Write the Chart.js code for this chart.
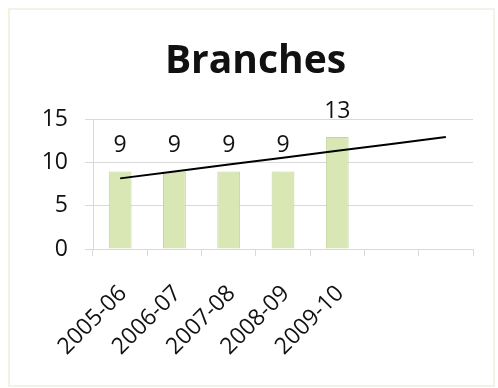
<!DOCTYPE html>
<html>
<head>
<meta charset="utf-8">
<script src="https://cdn.jsdelivr.net/npm/chart.js@4/dist/chart.umd.min.js"></script>
<style>
  html, body { margin: 0; padding: 0; background: #fff; }
  #wrap { position: relative; width: 498px; height: 388px; }
  #frame { position: absolute; left: 8px; top: 8px; width: 483px; height: 375px;
           border: 2px solid #f1f2ea; border-left-color: #f0f3de; pointer-events: none; }
</style>
</head>
<body>
<div id="wrap">
  <canvas id="chart" width="498" height="388"></canvas>
  <div id="frame"></div>
</div>
<script>
// Branches per year, with a linear trend carried two periods forward
const years = ['2005-06', '2006-07', '2007-08', '2008-09', '2009-10', '', ''];
const branches = [9, 9, 9, 9, 13, null, null];
const trend = [8.2, 9.0, 9.8, 10.6, 11.4, 12.2, 13.0];
const yTicks = [0, 5, 10, 15];

const FONT = 'Open Sans';
const GRID = '#d9d9d9';

// Value labels above each bar
const barLabels = {
  id: 'barLabels',
  afterDatasetsDraw(chart){
    const ctx = chart.ctx;
    const meta = chart.getDatasetMeta(1);
    ctx.save();
    ctx.font = '23px "' + FONT + '"';
    ctx.fillStyle = '#111';
    ctx.textAlign = 'center';
    ctx.textBaseline = 'alphabetic';
    meta.data.forEach((bar, i) => {
      if(branches[i] == null) return;
      ctx.fillText(String(branches[i]), bar.x, bar.y - 19);
    });
    ctx.restore();
  }
};

new Chart(document.getElementById('chart'), {
  data: {
    labels: years,
    datasets: [
      {type: 'line', label: 'Trend', data: trend, order: 0,
       borderColor: '#000', borderWidth: 2, pointRadius: 0, fill: false, tension: 0},
      {type: 'bar', label: 'Branches', data: branches, order: 1,
       backgroundColor: '#d8e7b3', borderColor: '#c2d69a', borderWidth: 1,
       barPercentage: 0.42, categoryPercentage: 1}
    ]
  },
  options: {
    responsive: false,
    animation: false,
    devicePixelRatio: 1,
    layout: {padding: {left: 38, right: 25, top: 0, bottom: 0}},
    plugins: {
      legend: {display: false},
      tooltip: {enabled: false},
      title: {
        display: true, text: 'Branches', color: '#111',
        font: {family: FONT, size: 39, weight: 'bold'},
        padding: {top: 38, bottom: 35}
      }
    },
    scales: {
      x: {
        offset: true,
        grid: {offset: true, drawOnChartArea: false, drawTicks: true, tickLength: 7, color: GRID},
        border: {color: GRID},
        ticks: {color: '#111', font: {family: FONT, size: 23}, minRotation: 45, maxRotation: 45,
                padding: 24, labelOffset: 3, autoSkip: false},
        afterFit(scale){ scale.height = 139; }
      },
      y: {
        min: 0, max: 15,
        afterBuildTicks(scale){ scale.ticks = yTicks.map(v => ({value: v})); },
        grid: {color: GRID, tickLength: 8},
        border: {color: GRID},
        ticks: {color: '#111', font: {family: FONT, size: 23}, padding: 17},
        afterFit(scale){ scale.width = 55; }
      }
    }
  },
  plugins: [barLabels]
});
</script>
</body>
</html>
